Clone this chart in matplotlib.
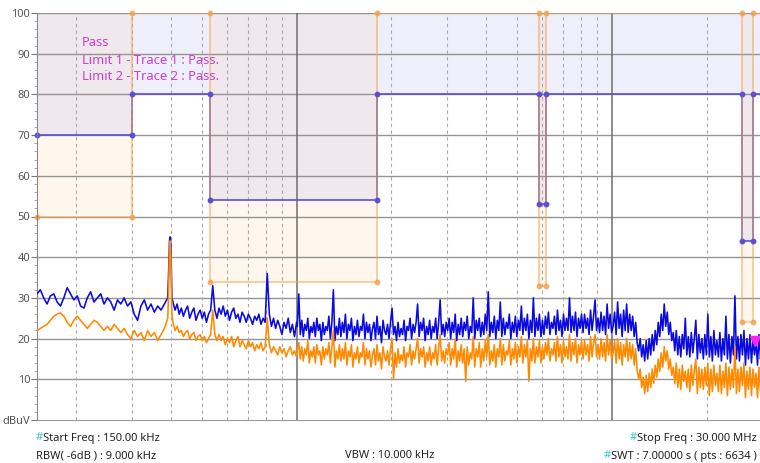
import numpy as np
import matplotlib.pyplot as plt
from matplotlib.ticker import MultipleLocator

plt.rcParams['font.family'] = ['Noto Sans', 'DejaVu Sans']

# limit lines (MHz edges, dBuV levels)
lim_edges = [0.15, 0.30, 0.53, 1.8, 5.9, 6.2, 26.0, 28.0, 30.0]
lim1_levels = [70, 80, 54, 80, 53, 80, 44, 80]
lim2_levels = [50, 100, 34, 100, 33, 100, 24, 100]

# trace values, in dBuV
blue_a = [31, 32, 30, 28.5, 30.5, 31, 29, 28, 30, 32.5, 31, 29.5, 30.5, 28, 27.5, 30, 31.5, 29, 30, 31,
          28.5, 30, 29, 27, 29.5, 28.5, 30, 28, 29, 26, 24.5, 28, 29.5, 27, 28.5, 26.5, 28, 27, 28.5, 30]
orange_a = [22, 22.5, 23, 23.5, 24.5, 25.5, 26, 26.3, 25.5, 24, 23, 24.5, 25.5, 24.5, 23.5, 22.5, 23.5, 24.5, 24, 23,
            22, 23, 22, 23.5, 22.5, 21.5, 22.5, 21, 20, 22, 20.5, 21.5, 19.5, 22, 20.5, 21.5, 19.5, 21, 22.5, 25]

peak_f = [0.392, 0.395, 0.397, 0.399, 0.402]
blue_peak = [35, 44, 45, 43, 30]
orange_peak = [30, 42, 44, 40, 26]

blue_b = [29, 27, 28.5, 26, 27.5, 25.5, 27, 28, 25, 26.5,
          27.5, 24.5, 26, 27, 25, 26.5, 24, 26, 27, 33,
          27, 25, 27.5, 26, 28, 25.5, 27, 24.5, 26.5, 27.5,
          25, 26, 24, 26.5, 25.5, 24, 26, 25, 23.5, 25.5,
          24.5, 26, 23.5, 25, 24, 36, 26, 23, 25, 22.5,
          24.5, 23, 21, 24, 22.5, 25, 21.5, 23.5, 20.5, 24]
orange_b = [24, 22, 23, 21.5, 22, 20.5, 21.5, 22, 20, 21,
            21.5, 19.5, 20.5, 21, 19.5, 20.5, 19, 20, 21, 27,
            21, 19.5, 21, 19.5, 20.5, 18.5, 20, 19, 20.5, 18,
            19.5, 20.5, 18, 19.5, 18.5, 17.5, 19.5, 18, 19, 17,
            18.5, 17.5, 19, 17, 18, 25, 18.5, 16.5, 18, 17,
            16, 18, 16.5, 17.5, 15.5, 17, 18, 16, 17, 15.5]

blue_c = [23, 31, 21, 24.5, 20.5, 23.5, 22, 25, 20, 23,
          21.5, 24, 20.5, 25, 22, 23.5, 19.5, 24, 21, 23,
          22, 25.5, 20, 24, 32, 19.5, 23, 21, 25, 20.5,
          24, 21.5, 26, 20, 23.5, 22, 25, 19.5, 23, 21,
          24.5, 20.5, 23, 22, 26, 20, 24, 21.5, 23.5, 19.5,
          22.5, 24, 20, 25.5, 21, 23, 19, 24.5, 22, 21,
          23.5, 20, 24, 27.5, 21, 23, 19.5, 24, 20.5, 22.5,
          21, 24.5, 19.5, 23, 22, 25, 20, 23.5, 21.5, 24,
          28.5, 20.5, 24, 22, 25, 19.5, 23, 21, 24.5, 20,
          23, 21.5, 25, 20, 24, 29.5, 21, 23.5, 20.5, 24,
          22, 25, 20, 24, 21.5, 26, 19.5, 23.5, 21, 25,
          20.5, 24, 22, 25.5, 20, 23, 21.5, 30, 20, 24.5,
          22, 25, 20.5, 24, 21, 26, 22, 31.5, 20.5, 24,
          21.5, 25.5, 20, 24.5, 22, 29, 20.5, 25, 21, 24,
          22.5, 26, 20, 24, 21.5, 25.5, 20.5, 24.5, 22, 28,
          21, 25, 22, 26, 20, 24.5, 21.5, 30, 20.5, 25,
          22, 26, 20.5, 24.5, 21, 25.5, 22.5, 26.5, 21, 24,
          22.5, 25.5, 21, 27, 22, 24.5, 20.5, 26, 22, 25,
          22, 30, 21.5, 25.5, 22, 26.5, 20.5, 25, 22.5, 26,
          21.5, 26, 22.5, 25, 21, 27, 22, 25.5, 29.5, 22,
          25, 21.5, 26.5, 22, 25.5, 21, 28.5, 22.5, 26, 21.5,
          23, 26.5, 21, 29, 22.5, 26, 20.5, 27, 22, 28.5,
          21.5, 26, 22, 25.5, 20.5, 24, 19, 17, 20, 15.5,
          18.5, 14.5, 19.5, 15, 20, 16, 21, 17, 22, 18.5,
          24, 20.5, 26, 22, 28.5, 23, 26.5, 21, 24, 19.5,
          21.5, 17, 22, 16, 20.5, 15.5, 21, 17.5, 25, 16,
          20.5, 15.5, 21.5, 16.5, 20, 24.5, 15, 21, 16.5, 20,
          15, 21, 16, 26, 15.5, 20.5, 14.5, 22, 16, 19.5,
          15.5, 21.5, 14.5, 20, 16, 25.5, 15, 21, 14, 20.5,
          16, 30.5, 15, 20.5, 14.5, 21, 16, 22, 13.5, 20,
          15, 21, 14, 20, 16, 19.5, 13.5, 21, 15, 18]
orange_c = [17, 19, 15, 18, 14.5, 17.5, 16, 19.5, 14, 17,
            15.5, 18, 14, 18.5, 16, 17, 13.5, 18, 15, 17.5,
            16, 19, 14, 18, 22, 13, 17, 15, 18.5, 14.5,
            17.5, 15, 19, 13.5, 17, 15.5, 18.5, 13, 16.5, 15,
            18, 14, 16.5, 15.5, 19, 13.5, 17.5, 15, 17, 13,
            16, 17.5, 13.5, 18.5, 14.5, 16.5, 12.5, 18, 15.5, 14.5,
            17, 13.5, 17.5, 20, 10, 16.5, 13, 17.5, 14, 16,
            14.5, 18, 13, 16.5, 15.5, 18.5, 13.5, 17, 15, 17.5,
            20, 14, 17.5, 15.5, 18, 13, 16.5, 14.5, 18, 13.5,
            16.5, 15, 18.5, 13.5, 17.5, 21, 14.5, 17, 14, 17.5,
            16, 19, 13.5, 17.5, 15, 20, 13, 17, 14.5, 18.5,
            14, 17.5, 9.5, 18, 13.5, 16.5, 15, 20.5, 13, 17.5,
            15.5, 19, 13, 17.5, 14.5, 19.5, 15.5, 21, 13.5, 17,
            14.5, 18.5, 13, 17.5, 15.5, 20, 13.5, 18.5, 14.5, 17,
            16, 19.5, 13.5, 17.5, 15, 19, 14, 18, 15.5, 20.5,
            14, 18.5, 15.5, 19.5, 9.5, 17.5, 14.5, 20, 14, 18,
            15.5, 19.5, 14, 18, 15, 19, 16, 20, 14.5, 17.5,
            16, 19, 14.5, 20.5, 15.5, 18.5, 14, 19.5, 15.5, 18,
            15, 21, 14.5, 19, 16, 20, 14, 18.5, 16, 19.5,
            15, 19.5, 16, 18.5, 14.5, 20.5, 15.5, 19, 21, 15.5,
            18.5, 15, 20, 15.5, 19, 14.5, 21, 16, 19.5, 15,
            16.5, 19.5, 14, 20, 15, 19, 13.5, 18.5, 15.5, 20,
            14.5, 19, 15, 18.5, 13.5, 17.5, 12, 10, 12.5, 8,
            10.5, 6.5, 11, 7, 11.5, 8, 12.5, 9, 13.5, 10.5,
            15, 12, 16.5, 13, 18, 14.5, 17, 12.5, 15, 11,
            13, 9, 14, 8, 12.5, 7.5, 13.5, 9.5, 12, 8,
            12.5, 7, 13.5, 8.5, 12, 15, 6.5, 13, 8, 12.5,
            7.5, 13, 8.5, 14, 6, 12.5, 7, 13.5, 8.5, 11.5,
            7, 13.5, 6.5, 12, 8, 14, 6, 13, 7.5, 12.5,
            8, 18, 6.5, 12.5, 7, 13, 8.5, 14, 5.5, 12,
            7.5, 13, 6, 12.5, 8, 11.5, 5.5, 13, 7, 10]

marker_f, marker_v = 28.6, 19.5

# sweep points of each segment (log spaced like the analyser)
f_a = np.geomspace(0.15, 0.39, len(blue_a))
f_b = np.geomspace(0.405, 1.0, len(blue_b))
f_c = np.geomspace(1.005, 30.0, len(blue_c))
freq = np.concatenate([f_a, peak_f, f_b, f_c])
trace1 = np.concatenate([blue_a, blue_peak, blue_b, blue_c])
trace2 = np.concatenate([orange_a, orange_peak, orange_b, orange_c])

W, H = 760, 463
fig = plt.figure(figsize=(W / 100, H / 100), dpi=100)
ax = fig.add_axes([37 / W, 43 / H, 725 / W, 407 / H])
ax.set_xscale('log')
ax.set_xlim(0.15, 30)
ax.set_ylim(0, 100)

# grid
for v in range(10, 101, 10):
    ax.axhline(v, color='#949494', lw=1.0, zorder=1)
for dec in [0.1, 1, 10]:
    for m in range(2, 10):
        f = dec * m
        if 0.15 < f < 30:
            ax.axvline(f, color='#a8a8a8', lw=0.8, ls=(0, (3, 3)), zorder=1)
for f in [1, 10]:
    ax.axvline(f, color='#6e6e6e', lw=1.1, zorder=1)

# shaded areas above the limits
l1 = lim1_levels + [lim1_levels[-1]]
l2 = lim2_levels + [lim2_levels[-1]]
ax.fill_between(lim_edges, l2, 100, step='post', color='#ff9a30', alpha=0.08, lw=0, zorder=0.5)
ax.fill_between(lim_edges, l1, 100, step='post', color='#5050d8', alpha=0.085, lw=0, zorder=0.6)

# limit lines
ax.step(lim_edges, l1, where='post', color='#5b4fd6', lw=1.2, zorder=2)
ax.step(lim_edges, l2, where='post', color='#f5a24c', lw=1.2, alpha=0.6, zorder=2.1)
mx, m1, m2 = [], [], []
for i in range(len(lim1_levels)):
    mx += [lim_edges[i], lim_edges[i + 1]]
    m1 += [lim1_levels[i], lim1_levels[i]]
    m2 += [lim2_levels[i], lim2_levels[i]]
ax.plot(mx, m1, 'o', color='#5b4fd6', ms=3.2, zorder=2.2, clip_on=False)
ax.plot(mx, m2, 'o', color='#f5a24c', ms=3.2, alpha=0.8, zorder=2.2, clip_on=False)

# traces
ax.plot(freq, trace1, color='#0a0ae0', lw=1.15, zorder=3)
ax.plot(freq, trace2, color='#ff8a00', lw=1.15, zorder=3.1)
ax.plot([marker_f], [marker_v], marker='v', color='#ff22ee', ms=7, zorder=4, clip_on=False)

# axes look
ax.set_xticks([])
ax.set_xticks([], minor=True)
ax.set_yticks(range(0, 101, 10))
ax.set_yticklabels(['dBuV'] + [str(v) for v in range(10, 101, 10)])
ax.yaxis.set_minor_locator(MultipleLocator(2))
ax.tick_params(axis='y', which='major', length=4, width=0.8, color='#777777',
               labelsize=8, labelcolor='#555555', pad=1)
ax.tick_params(axis='y', which='minor', length=2, width=0.6, color='#999999')
for s in ['top', 'right']:
    ax.spines[s].set_visible(False)
ax.spines['left'].set_color('#888888')
ax.spines['bottom'].set_color('#9a9a9a')
ax.set_facecolor('white')

# pass text
pc = '#cc3fcc'
pfs = 9.3
fig.text(82 / W, 1 - 42 / H, 'Pass', color=pc, fontsize=pfs, va='center')
fig.text(82 / W, 1 - 60 / H, 'Limit 1 - Trace 1 : Pass.', color=pc, fontsize=pfs, va='center')
fig.text(82 / W, 1 - 76 / H, 'Limit 2 - Trace 2 : Pass.', color=pc, fontsize=pfs, va='center')

# footer
hc = '#3cc8c8'
tc = '#222222'
fs = 8.0
fig.text(36 / W, 1 - 438 / H, '#', color=hc, fontsize=fs, va='center')
fig.text(43 / W, 1 - 438 / H, 'Start Freq : 150.00 kHz', color=tc, fontsize=fs, va='center')
fig.text(36 / W, 1 - 456 / H, 'RBW( -6dB ) : 9.000 kHz', color=tc, fontsize=fs, va='center')
fig.text(345 / W, 1 - 456 / H, 'VBW : 10.000 kHz', color=tc, fontsize=fs, va='center')
renderer = fig.canvas.get_renderer()
for txt, yy in [('Stop Freq : 30.000 MHz', 438), ('SWT : 7.00000 s ( pts : 6634 )', 456)]:
    t = fig.text(757 / W, 1 - yy / H, txt, color=tc, fontsize=fs, va='center', ha='right')
    bb = t.get_window_extent(renderer)
    fig.text(bb.x0 / W, 1 - yy / H, '#', color=hc, fontsize=fs, va='center', ha='right')

fig.savefig('out.png', dpi=100)
